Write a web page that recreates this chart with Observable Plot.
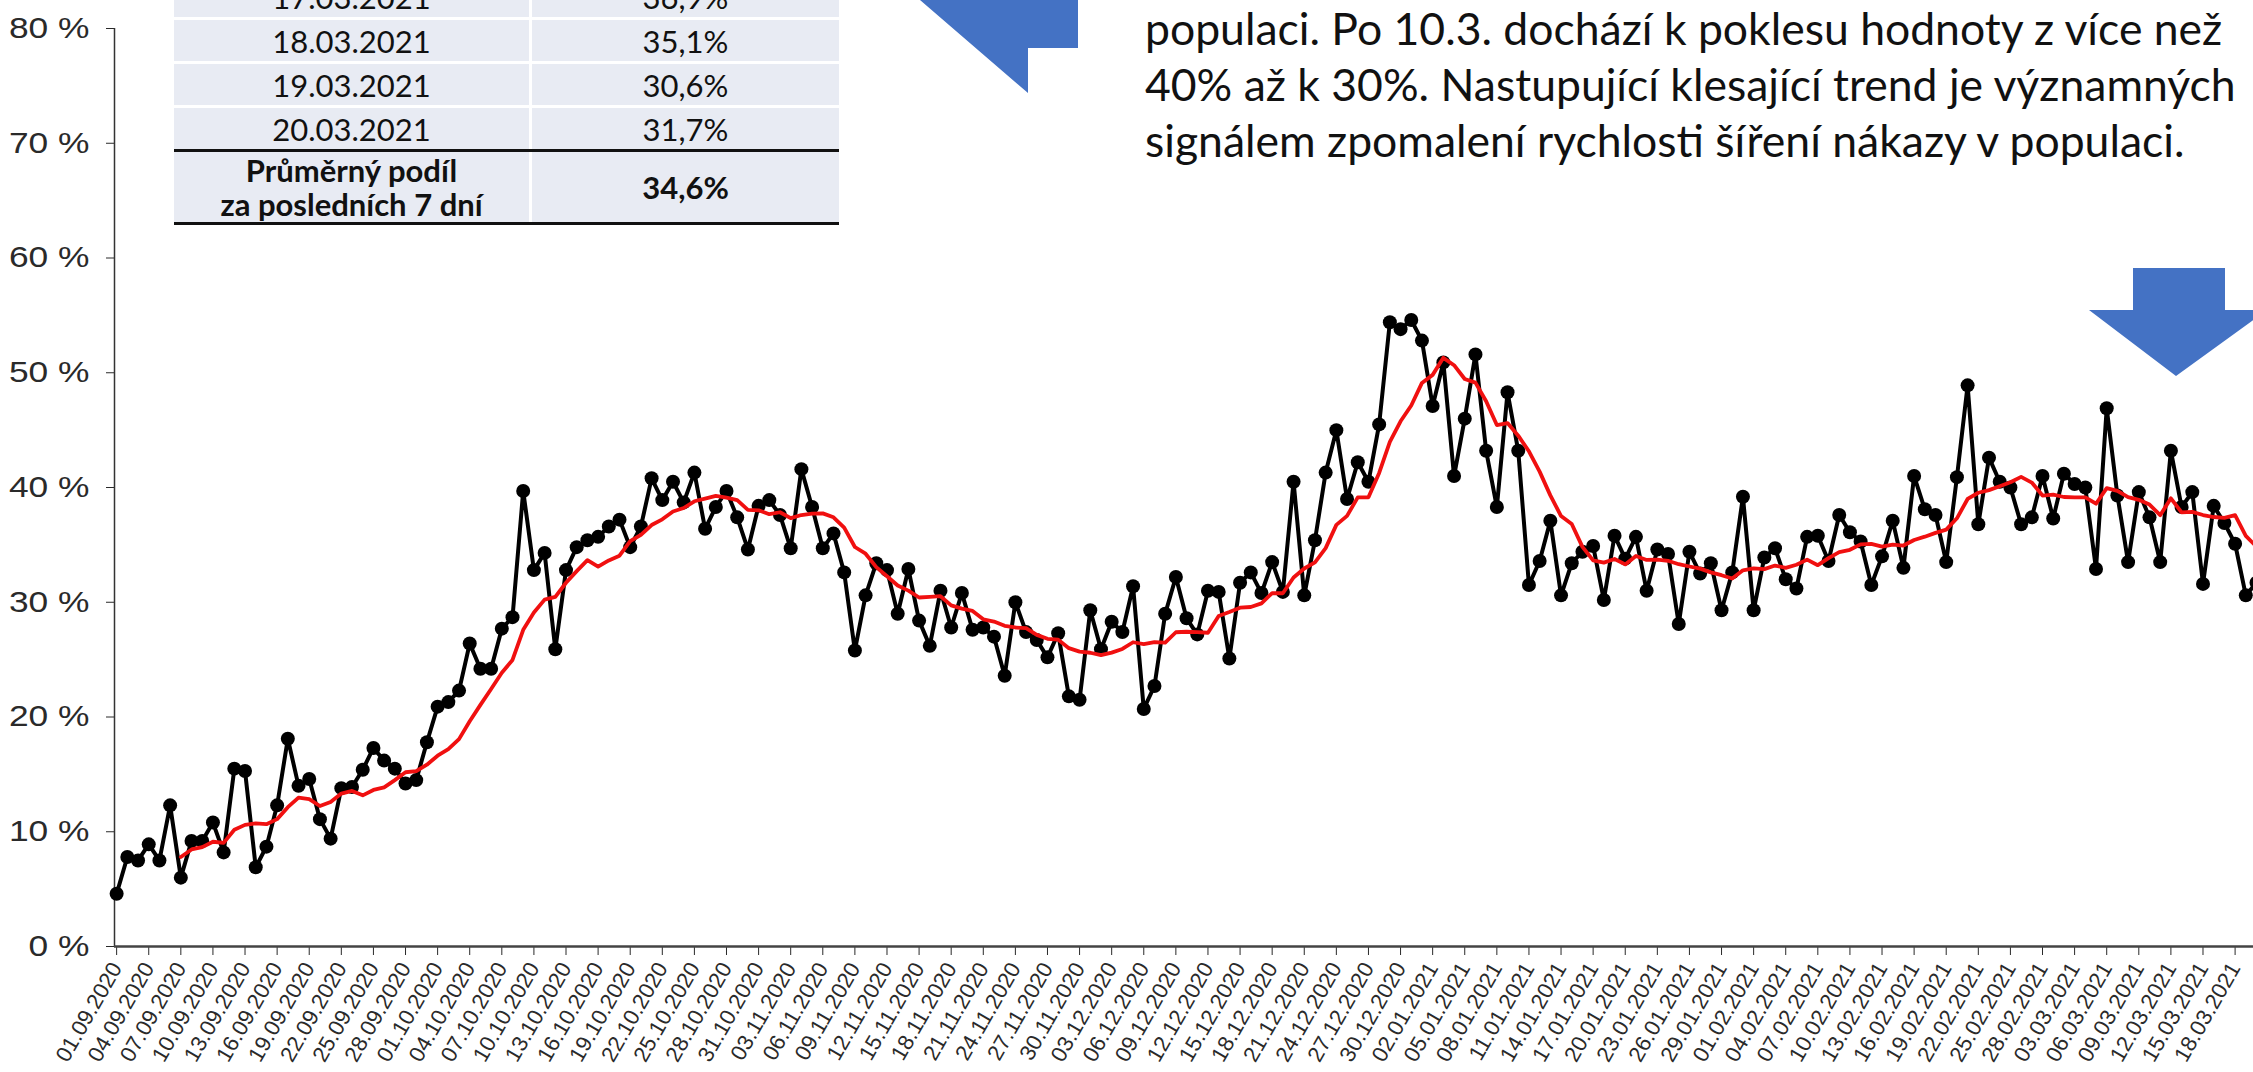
<!DOCTYPE html>
<html>
<head>
<meta charset="utf-8">
<script src="https://cdn.jsdelivr.net/npm/d3@7"></script>
<script src="https://cdn.jsdelivr.net/npm/@observablehq/plot@0.6"></script>
<style>
  html, body { margin: 0; padding: 0; background: #fff; overflow: hidden; }
  #wrap { position: relative; width: 2253px; height: 1072px; overflow: hidden; background: #fff; }
  #chart { position: absolute; left: 0; top: 0; }
  #table { position: absolute; left: 174px; top: -24px; width: 665px; font-family: Lato, "Open Sans", sans-serif; color: #111; }
  .row { display: flex; background: #fff; }
  .cell { background: #e8ebf3; display: flex; align-items: center; justify-content: center; text-align: center; font-size: 31px; }
  .c1 { width: 355px; margin-right: 3px; }
  .c2 { width: 307px; }
  .r { height: 41px; margin-bottom: 3px; }
  .sum { height: 70px; font-weight: bold; line-height: 34px; font-size: 31px; }
  .blk { height: 3px; background: #111; }
  #note { position: absolute; left: 1145px; top: 0px; font-family: Lato, "Open Sans", sans-serif; font-size: 44.5px; line-height: 56px; color: #111; white-space: nowrap; }
  .arrow { position: absolute; left: 0; top: 0; }
</style>
</head>
<body>
<div id="wrap">
  <div id="chart"></div>
  <div id="table"></div>
  <div id="note"></div>
  <svg class="arrow" width="2253" height="1072" viewBox="0 0 2253 1072">
    <polygon points="920,0 1078,0 1078,48 1028,48 1028,93" fill="#4472c4"/>
    <polygon points="2133,268 2225,268 2225,310 2267,310 2176,376 2089,310 2133,310" fill="#4472c4"/>
  </svg>
</div>
<script>
// ---- data (share in %, daily from 01.09.2020) ----
const startDay = "2020-09-01";
const shareSep = [4.6, 7.8, 7.5, 8.9, 7.5, 12.3, 6.0, 9.2, 9.2, 10.8, 8.2, 15.5, 15.3, 6.9, 8.7, 12.3, 18.1, 14.0, 14.6, 11.1, 9.4, 13.8, 13.9, 15.4, 17.3, 16.2, 15.5, 14.2, 14.5, 17.8];
const shareOct = [20.9, 21.3, 22.3, 26.4, 24.2, 24.2, 27.7, 28.7, 39.7, 32.8, 34.3, 25.9, 32.8, 34.8, 35.4, 35.7, 36.6, 37.2, 34.8, 36.6, 40.8, 38.9, 40.5, 38.7, 41.3, 36.4, 38.3, 39.7, 37.4, 34.6, 38.4];
const shareNov = [38.9, 37.6, 34.7, 41.6, 38.3, 34.7, 36.0, 32.6, 25.8, 30.6, 33.4, 32.8, 29.0, 32.9, 28.4, 26.2, 31.0, 27.8, 30.8, 27.6, 27.8, 27.0, 23.6, 30.0, 27.4, 26.7, 25.2, 27.3, 21.8, 21.5];
const shareDec = [29.3, 25.9, 28.3, 27.4, 31.4, 20.7, 22.7, 29.0, 32.2, 28.6, 27.2, 31.0, 30.9, 25.1, 31.7, 32.6, 30.8, 33.5, 30.9, 40.5, 30.6, 35.4, 41.3, 45.0, 39.0, 42.2, 40.5, 45.5, 54.4, 53.8, 54.6];
const shareJan = [52.8, 47.1, 50.9, 41.0, 46.0, 51.6, 43.2, 38.3, 48.3, 43.2, 31.5, 33.6, 37.1, 30.6, 33.4, 34.4, 34.9, 30.2, 35.8, 33.8, 35.7, 31.0, 34.6, 34.2, 28.1, 34.4, 32.5, 33.4, 29.3, 32.6, 39.2];
const shareFeb = [29.3, 33.9, 34.7, 32.0, 31.2, 35.7, 35.8, 33.6, 37.6, 36.1, 35.3, 31.5, 34.0, 37.1, 33.0, 41.0, 38.1, 37.6, 33.5, 40.9, 48.9, 36.8, 42.6, 40.5, 40.0, 36.8, 37.4, 41.0];
const shareMar = [37.3, 41.2, 40.3, 40.0, 32.9, 46.9, 39.3, 33.5, 39.6, 37.4, 33.5, 43.2, 38.3, 39.6, 31.6, 38.4, 36.9, 35.1, 30.6, 31.7];
const yTicks = [0, 10, 20, 30, 40, 50, 60, 70, 80];
const tickEveryDays = 3;
const tableDates = ["17.03.2021", "18.03.2021", "19.03.2021", "20.03.2021"];
const tableShares = ["36,9%", "35,1%", "30,6%", "31,7%"];
const summaryLabel = ["Průměrný podíl", "za posledních 7 dní"];
const summaryValue = "34,6%";
const noteLines = [
  "populaci. Po 10.3. dochází k poklesu hodnoty z více než",
  "40% až k 30%. Nastupující klesající trend je významných",
  "signálem zpomalení rychlosti šíření nákazy v populaci."
];

// ---- build table for Plot ----
const shares = [].concat(shareSep, shareOct, shareNov, shareDec, shareJan, shareFeb, shareMar);
const day0 = new Date(startDay + "T00:00:00Z");
const dates = d3.utcDay.range(day0, d3.utcDay.offset(day0, shares.length));
const rows = shares.map((v, i) => ({date: dates[i], value: v}));
const xTicks = dates.filter((d, i) => i % tickEveryDays === 0);
const fmtDate = d3.utcFormat("%d.%m.%Y");
const DAY = 864e5;
const xDomain = [new Date(+day0 - 0.2 * DAY), new Date(+day0 + 199.72 * DAY)];

const chart = Plot.plot({
  width: 2253,
  height: 1072,
  marginLeft: 114,
  marginRight: 0,
  marginTop: 28,
  marginBottom: 126,
  style: {fontFamily: "'Liberation Sans', Arial, sans-serif", background: "transparent"},
  x: {type: "utc", domain: xDomain},
  y: {domain: [0, 80]},
  marks: [
    Plot.axisY({ticks: yTicks, tickFormat: d => d + " %", tickSize: 8, tickPadding: 17, fontSize: 29, color: "#2a2a2a", label: null}),
    Plot.axisX({ticks: xTicks, tickFormat: fmtDate, tickRotate: -60, tickSize: 9, tickPadding: 9, fontSize: 22, color: "#2a2a2a", label: null}),
    Plot.ruleX([xDomain[0]], {y1: 0, y2: 80, stroke: "#333", strokeWidth: 1.5}),
    Plot.ruleY([0], {stroke: "#444", strokeWidth: 2.5}),
    Plot.lineY(rows, {x: "date", y: "value", stroke: "#000", strokeWidth: 4}),
    Plot.dot(rows, {x: "date", y: "value", r: 7, fill: "#000", stroke: "none"}),
    Plot.lineY(rows, Plot.windowY({k: 7, anchor: "end", strict: true}, {x: "date", y: "value", stroke: "#f01010", strokeWidth: 3.8}))
  ]
});
// widen the y tick labels (the reference uses a broad face)
chart.querySelectorAll('g[aria-label="y-axis tick label"] text').forEach(t => {
  const tr = t.getAttribute("transform") || "";
  if (tr.includes("translate")) t.setAttribute("transform", tr + " scale(1.22,1)");
});
document.getElementById("chart").appendChild(chart);

// ---- table overlay ----
const tbl = document.getElementById("table");
tableDates.forEach((d, i) => {
  const r = document.createElement("div");
  r.className = "row";
  r.innerHTML = `<div class="cell c1 r">${d}</div><div class="cell c2 r">${tableShares[i]}</div>`;
  tbl.appendChild(r);
});
const b1 = document.createElement("div"); b1.className = "blk"; b1.style.marginTop = "-3px"; tbl.appendChild(b1);
const s = document.createElement("div");
s.className = "row";
s.innerHTML = `<div class="cell c1 sum">${summaryLabel.join("<br>")}</div><div class="cell c2 sum">${summaryValue}</div>`;
tbl.appendChild(s);
const b2 = document.createElement("div"); b2.className = "blk"; tbl.appendChild(b2);

// ---- note text ----
document.getElementById("note").innerHTML = noteLines.map(t => `<div>${t}</div>`).join("");
</script>
</body>
</html>
